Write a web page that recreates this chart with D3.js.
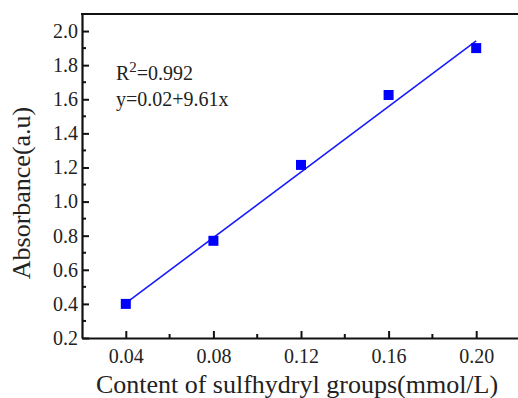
<!DOCTYPE html>
<html lang="en">
<head>
  <meta charset="UTF-8">
  <title>Sulfhydryl standard curve</title>
  <script src="https://d3js.org/d3.v7.min.js"></script>
  <style>
    body { margin: 0; background: #fff; }
    svg text { font-family: "Liberation Serif", "Times New Roman", Times, serif !important; }
  </style>
</head>
<body>
  <svg width="518" height="398"></svg>
  <script>
    // Data
    const conc = [0.04, 0.08, 0.12, 0.16, 0.20];
    const absorbance = [0.40, 0.77, 1.215, 1.625, 1.90];
    const fitIntercept = 0.02;
    const fitSlope = 9.61;
    const xTicks = [0.04, 0.08, 0.12, 0.16, 0.20];
    const yTicks = [0.2, 0.4, 0.6, 0.8, 1.0, 1.2, 1.4, 1.6, 1.8, 2.0];

    const svg = d3.select('svg');

    const x = d3.scaleLinear().domain([0.02, 0.22]).range([82, 520]);
    const y = d3.scaleLinear().domain([0.2, 2.1]).range([338, 14]);

    // Axes with inward ticks
    const xAxis = d3.axisBottom(x).tickValues(xTicks).tickFormat(d3.format('.2f'))
      .tickSizeInner(-7).tickSizeOuter(0).tickPadding(11);
    const yAxis = d3.axisLeft(y).tickValues(yTicks).tickFormat(d3.format('.1f'))
      .tickSizeInner(-7).tickSizeOuter(0).tickPadding(4);

    const gx = svg.append('g').attr('transform', 'translate(0,338)').call(xAxis);
    const gy = svg.append('g').attr('transform', 'translate(82,0)').call(yAxis);

    // minor ticks
    const xMinor = d3.range(0.06, 0.22, 0.04);
    gx.selectAll('.minor').data(xMinor).enter().append('line')
      .attr('x1', d => x(d)).attr('x2', d => x(d))
      .attr('y1', 0).attr('y2', -4)
      .attr('stroke', '#111').attr('stroke-width', 2);
    const yMinor = d3.range(0.3, 2.1, 0.2);
    gy.selectAll('.minor').data(yMinor).enter().append('line')
      .attr('y1', d => y(d)).attr('y2', d => y(d))
      .attr('x1', 0).attr('x2', 4)
      .attr('stroke', '#111').attr('stroke-width', 2);

    [gx, gy].forEach(g => {
      g.attr('font-size', 20);
      g.select('.domain').attr('stroke', '#111').attr('stroke-width', 2.2);
      g.selectAll('.tick line').attr('stroke', '#111').attr('stroke-width', 2);
      g.selectAll('.tick text').attr('fill', '#222');
    });

    // top frame line
    svg.append('line')
      .attr('x1', x(0.02) - 1).attr('x2', x(0.22))
      .attr('y1', y(2.1)).attr('y2', y(2.1))
      .attr('stroke', '#111').attr('stroke-width', 2.2);

    // fitted line
    svg.append('line')
      .attr('x1', x(conc[0])).attr('y1', y(fitIntercept + fitSlope * conc[0]))
      .attr('x2', x(conc[conc.length - 1])).attr('y2', y(fitIntercept + fitSlope * conc[conc.length - 1]))
      .attr('stroke', '#1a1aff').attr('stroke-width', 1.6);

    // points
    svg.selectAll('rect.pt')
      .data(conc.map((c, i) => [c, absorbance[i]]))
      .enter()
      .append('rect')
      .attr('x', d => x(d[0]) - 5)
      .attr('y', d => y(d[1]) - 5)
      .attr('width', 10).attr('height', 10)
      .attr('fill', '#0000ff');

    // annotation
    const r2 = svg.append('text').attr('x', 116).attr('y', 80)
      .attr('font-size', 20).attr('fill', '#222');
    r2.append('tspan').text('R');
    r2.append('tspan').attr('dy', -8).attr('font-size', 15).text('2');
    r2.append('tspan').attr('dy', 8).text('=0.992');
    svg.append('text').attr('x', 116).attr('y', 106)
      .attr('font-size', 20).attr('fill', '#222')
      .text('y=0.02+9.61x');

    // axis titles
    svg.append('text')
      .attr('x', 297).attr('y', 393)
      .attr('text-anchor', 'middle')
      .attr('font-size', 26).attr('fill', '#222')
      .text('Content of sulfhydryl groups(mmol/L)');

    svg.append('text')
      .attr('transform', 'translate(30,193) rotate(-90)')
      .attr('text-anchor', 'middle')
      .attr('font-size', 26).attr('fill', '#222')
      .text('Absorbance(a.u)');
  </script>
</body>
</html>
